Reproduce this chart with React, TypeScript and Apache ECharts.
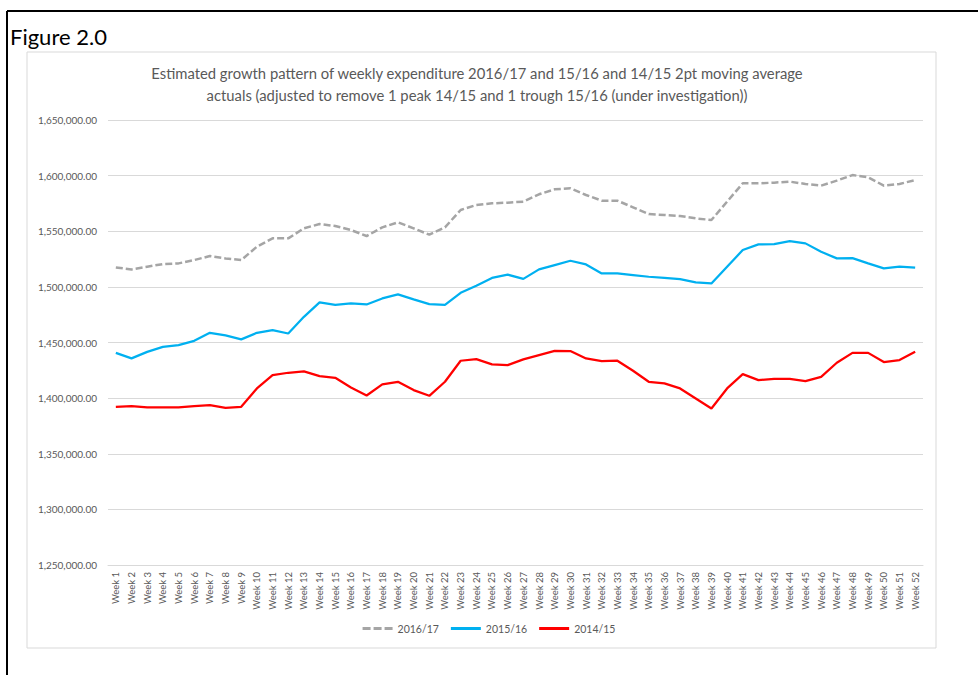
import React, { useEffect, useRef } from "react";
import * as echarts from "echarts";

const weeks: string[] = Array.from({ length: 52 }, (_, i) => `Week ${i + 1}`);

const s1617: number[] = [
  1517500, 1515700, 1518100, 1520500, 1521100, 1524100, 1527700, 1525600, 1524100, 1536100,
  1543600, 1543600, 1552600, 1556500, 1554700, 1551100, 1545700, 1553500, 1558000, 1552600,
  1546900, 1553500, 1569100, 1573600, 1575100, 1575700, 1576600, 1583200, 1587700, 1588600,
  1582600, 1577500, 1577500, 1571500, 1565500, 1564600, 1563700, 1561600, 1560100, 1576600,
  1593100, 1593100, 1593700, 1594600, 1592500, 1591000, 1595500, 1600500, 1598500, 1591000,
  1592500, 1596000,
];

const s1516: number[] = [
  1440700, 1435700, 1441600, 1446100, 1447700, 1451500, 1458700, 1456400, 1452800, 1458700,
  1461100, 1458100, 1473100, 1486000, 1483900, 1485100, 1484200, 1489600, 1493200, 1488800,
  1484500, 1483900, 1494700, 1501000, 1508000, 1511000, 1507200, 1515700, 1519600, 1523500,
  1520200, 1512100, 1512100, 1510600, 1509100, 1508000, 1506900, 1504000, 1503100, 1518100,
  1533100, 1538200, 1538500, 1541200, 1539100, 1531600, 1525600, 1525900, 1521100, 1516600,
  1518100, 1517200,
];

const s1415: number[] = [
  1392200, 1392800, 1391600, 1391600, 1391600, 1392800, 1393700, 1391300, 1392200, 1408700,
  1420700, 1422800, 1424000, 1419800, 1418300, 1409600, 1402400, 1412300, 1414700, 1407200,
  1402100, 1414700, 1433600, 1435100, 1430300, 1429700, 1434800, 1438700, 1442500, 1442300,
  1435700, 1433300, 1433600, 1424600, 1414700, 1413200, 1408700, 1399700, 1390700, 1408700,
  1421600, 1416200, 1417400, 1417400, 1415300, 1419100, 1431800, 1440700, 1440700, 1432400,
  1434200, 1441600,
];

const seriesNames: string[] = ["2016/17", "2015/16", "2014/15"];
const titleText =
  "Estimated growth pattern of weekly expenditure 2016/17 and 15/16 and 14/15 2pt moving average\nactuals (adjusted to remove 1 peak 14/15 and 1 trough 15/16 (under investigation))";

const dashIcon = "path://M0,0H8V3H0Z M11,0H19V3H11Z M22,0H30V3H22Z";
const solidIcon = "path://M0,0H30V3H0Z";

export default function App() {
  const ref = useRef<HTMLDivElement>(null);
  useEffect(() => {
    if (!ref.current) return;
    const chart = echarts.init(ref.current, undefined, { renderer: "svg" });
    const font = "Lato, 'Open Sans', sans-serif";
    chart.setOption({
      animation: false,
      backgroundColor: "#ffffff",
      textStyle: { fontFamily: font },
      title: {
        text: titleText,
        left: 472,
        textAlign: "center",
        top: 57,
        textStyle: {
          fontFamily: font,
          fontSize: 14.8,
          fontWeight: "normal",
          color: "#595959",
          lineHeight: 22,
        },
      },
      graphic: [
        {
          type: "line",
          shape: { x1: 7, y1: 11, x2: 978, y2: 11 },
          style: { stroke: "#000", lineWidth: 2 },
        },
        {
          type: "line",
          shape: { x1: 7, y1: 11, x2: 7, y2: 675 },
          style: { stroke: "#000", lineWidth: 2 },
        },
        {
          type: "rect",
          shape: { x: 27, y: 52, width: 909, height: 596 },
          style: { fill: "none", stroke: "#D9D9D9", lineWidth: 1 },
          z: -1,
        },
        {
          type: "text",
          x: 10,
          y: 36,
          style: {
            text: "Figure 2.0",
            fontFamily: font,
            fontSize: 22,
            fill: "#000",
            textVerticalAlign: "middle",
          },
        },
      ],
      legend: {
        data: [
          { name: seriesNames[0], icon: dashIcon, itemStyle: { color: "#A5A5A5" } },
          { name: seriesNames[1], icon: solidIcon, itemStyle: { color: "#00B0F0" } },
          { name: seriesNames[2], icon: solidIcon, itemStyle: { color: "#FF0000" } },
        ],
        bottom: 36,
        left: "center",
        itemWidth: 30,
        itemHeight: 3,
        itemGap: 12,
        textStyle: { fontFamily: font, fontSize: 10.5, color: "#595959" },
      },
      grid: { left: 108, right: 55, top: 120, bottom: 110 },
      xAxis: {
        type: "category",
        data: weeks,
        boundaryGap: true,
        axisLine: { show: true, lineStyle: { color: "#D9D9D9" } },
        axisTick: { show: false },
        axisLabel: {
          rotate: 90,
          interval: 0,
          fontFamily: font,
          fontSize: 9.5,
          color: "#595959",
          margin: 7,
        },
      },
      yAxis: {
        type: "value",
        min: 1250000,
        max: 1650000,
        interval: 50000,
        axisLine: { show: false },
        axisTick: { show: false },
        splitLine: { lineStyle: { color: "#D9D9D9", width: 1 } },
        axisLabel: {
          fontFamily: font,
          fontSize: 10,
          color: "#595959",
          margin: 11,
          formatter: (v: number) =>
            v.toLocaleString("en-US", { minimumFractionDigits: 2, maximumFractionDigits: 2 }),
        },
      },
      series: [
        {
          name: seriesNames[0],
          type: "line",
          data: s1617,
          symbol: "none",
          lineStyle: { color: "#A5A5A5", width: 2.5, type: [7, 3] },
          itemStyle: { color: "#A5A5A5" },
        },
        {
          name: seriesNames[1],
          type: "line",
          data: s1516,
          symbol: "none",
          lineStyle: { color: "#00B0F0", width: 2.25 },
          itemStyle: { color: "#00B0F0" },
        },
        {
          name: seriesNames[2],
          type: "line",
          data: s1415,
          symbol: "none",
          lineStyle: { color: "#FF0000", width: 2.25 },
          itemStyle: { color: "#FF0000" },
        },
      ],
    });
    return () => chart.dispose();
  }, []);
  return (
    <div
      ref={ref}
      style={{ position: "fixed", left: 0, top: 0, width: 978, height: 675 }}
    />
  );
}
